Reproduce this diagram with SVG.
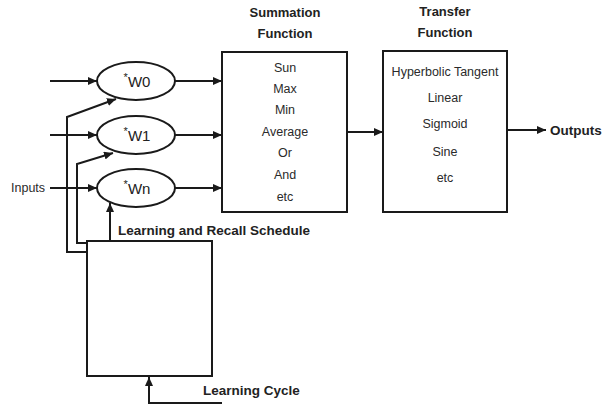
<svg xmlns="http://www.w3.org/2000/svg" width="606" height="410" viewBox="0 0 606 410">
<defs>
<marker id="arr" markerUnits="userSpaceOnUse" markerWidth="9" markerHeight="8" refX="9" refY="4" orient="auto">
<path d="M0,0 L9,4 L0,8 z" fill="#1a1a1a"/>
</marker>
<style>
.box{fill:#fff;stroke:#1a1a1a;stroke-width:2}
.ln{fill:none;stroke:#1a1a1a;stroke-width:2}
.hd{font-family:"Liberation Sans",Arial,sans-serif;font-weight:bold;font-size:13px;fill:#222;text-anchor:middle}
.it{font-family:"Liberation Sans",Arial,sans-serif;font-size:12.5px;fill:#2a2a2a;text-anchor:middle}
.lb{font-family:"Liberation Sans",Arial,sans-serif;font-weight:bold;font-size:13.5px;fill:#222}
.w{font-family:"Liberation Sans",Arial,sans-serif;font-size:15px;fill:#222;text-anchor:middle}
.ast{font-size:11px}
</style>
</defs>
<rect width="606" height="410" fill="#fff"/>

<g id="connectors">
<line class="ln" x1="50" y1="81" x2="97" y2="81" marker-end="url(#arr)"/>
<line class="ln" x1="50" y1="135" x2="97" y2="135" marker-end="url(#arr)"/>
<line class="ln" x1="50" y1="188" x2="97" y2="188" marker-end="url(#arr)"/>
<line class="ln" x1="175" y1="81" x2="222" y2="81" marker-end="url(#arr)"/>
<line class="ln" x1="175" y1="135" x2="222" y2="135" marker-end="url(#arr)"/>
<line class="ln" x1="175" y1="188" x2="222" y2="188" marker-end="url(#arr)"/>
<line class="ln" x1="347" y1="132" x2="383" y2="132" marker-end="url(#arr)"/>
<line class="ln" x1="507" y1="130" x2="546" y2="130" marker-end="url(#arr)"/>
<polyline class="ln" points="87,252 67,252 67,117 116,99" marker-end="url(#arr)"/>
<polyline class="ln" points="87,243 77,243 77,164 113,153" marker-end="url(#arr)"/>
<line class="ln" x1="110" y1="241" x2="110" y2="203" marker-end="url(#arr)"/>
<polyline class="ln" points="222,403 149,403 149,377" marker-end="url(#arr)"/>
</g>

<g id="w0">
<ellipse class="box" cx="136" cy="81" rx="39" ry="19"/>
<text class="w" x="137" y="87"><tspan class="ast" dy="-6">*</tspan><tspan dy="6">W0</tspan></text>
</g>
<g id="w1">
<ellipse class="box" cx="136" cy="135" rx="39" ry="19"/>
<text class="w" x="137" y="141"><tspan class="ast" dy="-6">*</tspan><tspan dy="6">W1</tspan></text>
</g>
<g id="wn">
<ellipse class="box" cx="136" cy="188" rx="39" ry="19"/>
<text class="w" x="137" y="194"><tspan class="ast" dy="-6">*</tspan><tspan dy="6">Wn</tspan></text>
</g>

<g id="inputs">
<text class="it" x="11" y="192" style="text-anchor:start">Inputs</text>
</g>

<g id="summation">
<text class="hd" x="285" y="17">Summation</text>
<text class="hd" x="285" y="38">Function</text>
<rect class="box" x="222" y="52" width="125" height="160"/>
<text class="it" x="285" y="72">Sun</text>
<text class="it" x="285" y="93">Max</text>
<text class="it" x="285" y="114">Min</text>
<text class="it" x="285" y="136">Average</text>
<text class="it" x="285" y="157">Or</text>
<text class="it" x="285" y="179">And</text>
<text class="it" x="285" y="201">etc</text>
</g>

<g id="transfer">
<text class="hd" x="445" y="16">Transfer</text>
<text class="hd" x="445" y="37">Function</text>
<rect class="box" x="383" y="51" width="124" height="161"/>
<text class="it" x="445" y="76">Hyperbolic Tangent</text>
<text class="it" x="445" y="102">Linear</text>
<text class="it" x="445" y="128">Sigmoid</text>
<text class="it" x="445" y="156">Sine</text>
<text class="it" x="445" y="182">etc</text>
</g>

<g id="outputs">
<text class="lb" x="550" y="135">Outputs</text>
</g>

<g id="schedule">
<text class="lb" x="118" y="235">Learning and Recall Schedule</text>
<rect class="box" x="87" y="241" width="125" height="135"/>
</g>

<g id="cycle">
<text class="lb" x="203" y="395">Learning Cycle</text>
</g>
</svg>
